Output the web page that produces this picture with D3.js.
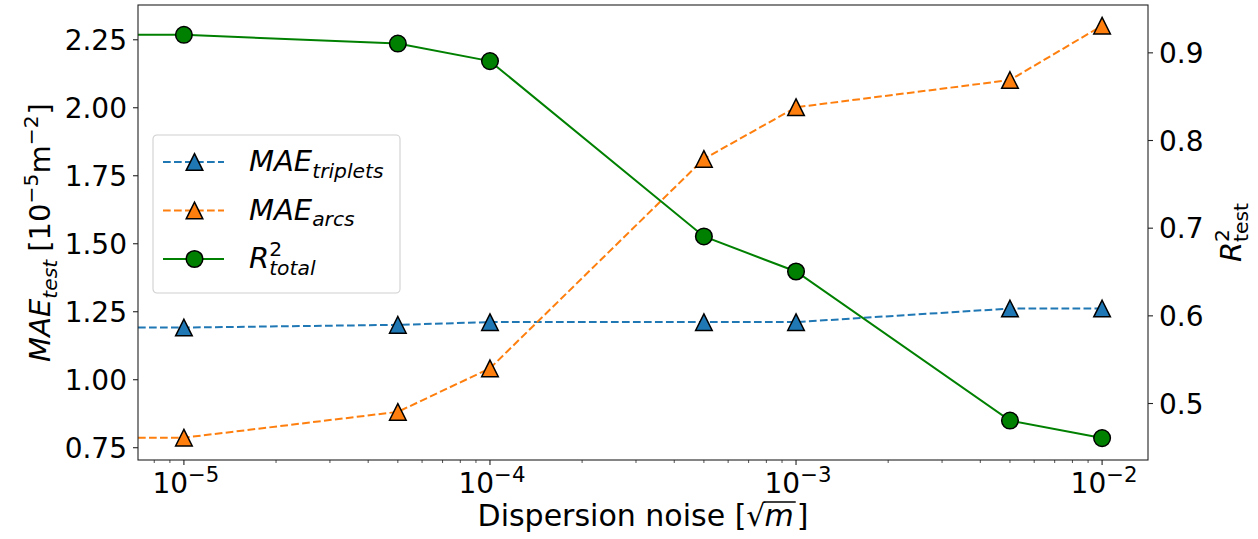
<!DOCTYPE html>
<html>
<head>
<meta charset="utf-8">
<script src="https://cdn.jsdelivr.net/npm/d3@7"></script>
<style>
  html, body { margin: 0; padding: 0; background: #fff; }
  svg { display: block; font-family: "DejaVu Sans", sans-serif; }
</style>
</head>
<body>
<svg id="chart" width="1258" height="539"></svg>
<script>
// Dispersion noise levels (x) and the three measured series
const noise = [1e-5, 5e-5, 1e-4, 5e-4, 1e-3, 5e-3, 1e-2];
const maeTriplets = [1.19, 1.20, 1.21, 1.21, 1.21, 1.26, 1.26];
const maeArcs = [0.785, 0.88, 1.04, 1.81, 2.00, 2.10, 2.30];
const r2Total = [0.92, 0.91, 0.89, 0.69, 0.65, 0.48, 0.46];

// Axis ticks
const xTickExponents = [-5, -4, -3, -2];
const leftTicks = [0.75, 1.00, 1.25, 1.50, 1.75, 2.00, 2.25];
const rightTicks = [0.5, 0.6, 0.7, 0.8, 0.9];

// Axis limits
const xLimits = [Math.pow(10, -5.15), Math.pow(10, -1.85)];
const leftLimits = [0.703, 2.376];
const rightLimits = [0.435, 0.954];

const svg = d3.select("#chart");
const box = { left: 138, right: 1148, top: 5, bottom: 460 };
const FS = 28;

const x = d3.scaleLog().domain(xLimits).range([box.left, box.right]);
const yL = d3.scaleLinear().domain(leftLimits).range([box.bottom, box.top]);
const yR = d3.scaleLinear().domain(rightLimits).range([box.bottom, box.top]);

const C = { blue: "#1f77b4", orange: "#ff7f0e", green: "#008000" };
const LW = 2;
const DASH = "7.7,3.3";
const MK = 8.3;

// Math-style label as a single <text>: pieces run left to right as tspans,
// sub/superscripts shift the baseline, "stack" restarts at the previous
// piece's x so a subscript sits under a superscript.
function mathText(g, pieces, size, opts = {}) {
  const shrink = opts.shrink || 0.7;
  const text = g.append("text").attr("x", 0).attr("y", 0).attr("fill", "#000");
  let curDy = 0, prevStart = 0, pendingDx = 0;
  const overs = [];
  pieces.forEach(p => {
    const small = p.sub || p.sup;
    const fs = small ? size * shrink : size;
    const target = p.sub ? size * 0.24 : (p.sup ? -size * 0.4 : 0);
    const ts = text.append("tspan")
      .attr("font-size", fs)
      .attr("font-style", p.it ? "italic" : "normal")
      .attr("dy", target - curDy);
    curDy = target;
    if (p.stack) ts.attr("x", prevStart);
    else if (pendingDx) ts.attr("dx", pendingDx);
    ts.text(p.t);
    pendingDx = p.gap || 0;
    const n = ts.node();
    prevStart = n.getStartPositionOfChar(0).x;
    if (p.over) overs.push({ n, len: p.t.length });
  });
  overs.forEach(o => {
    const a = o.n.getStartPositionOfChar(0).x;
    const b = o.n.getEndPositionOfChar(o.len - 1).x;
    g.append("line")
      .attr("x1", a - 1).attr("x2", b + 2)
      .attr("y1", -size * 0.8).attr("y2", -size * 0.8)
      .attr("stroke", "#000").attr("stroke-width", 1.4);
  });
  const bb = text.node().getBBox();
  return bb.x + bb.width;
}

// Plot frame background
svg.append("rect")
  .attr("x", box.left).attr("y", box.top)
  .attr("width", box.right - box.left).attr("height", box.bottom - box.top)
  .attr("fill", "#fff");

svg.append("clipPath").attr("id", "plotClip")
  .append("rect")
  .attr("x", box.left).attr("y", box.top)
  .attr("width", box.right - box.left).attr("height", box.bottom - box.top);

const plot = svg.append("g").attr("clip-path", "url(#plotClip)");

// Each line starts at the left edge at its first value
function linePoints(values, yScale) {
  const pts = values.map((v, i) => [x(noise[i]), yScale(v)]);
  return [[x.range()[0], yScale(values[0])]].concat(pts);
}
const lineGen = d3.line();

const trianglePath = `M0,${-MK}L${MK},${MK}L${-MK},${MK}Z`;

const series = [
  { values: maeTriplets, scale: yL, color: C.blue, dash: DASH, marker: "tri" },
  { values: maeArcs, scale: yL, color: C.orange, dash: DASH, marker: "tri" },
  { values: r2Total, scale: yR, color: C.green, dash: null, marker: "circle" }
];

series.forEach(s => {
  plot.append("path")
    .attr("d", lineGen(linePoints(s.values, s.scale)))
    .attr("fill", "none")
    .attr("stroke", s.color)
    .attr("stroke-width", LW)
    .attr("stroke-dasharray", s.dash);
  const mk = plot.selectAll(null).data(s.values).enter();
  if (s.marker === "tri") {
    mk.append("path")
      .attr("d", trianglePath)
      .attr("transform", (d, i) => `translate(${x(noise[i])},${s.scale(d)})`)
      .attr("fill", s.color).attr("stroke", "#000").attr("stroke-width", 1.5);
  } else {
    mk.append("circle")
      .attr("cx", (d, i) => x(noise[i])).attr("cy", d => s.scale(d))
      .attr("r", MK)
      .attr("fill", s.color).attr("stroke", "#000").attr("stroke-width", 1.5);
  }
});

// Frame
svg.append("rect")
  .attr("x", box.left).attr("y", box.top)
  .attr("width", box.right - box.left).attr("height", box.bottom - box.top)
  .attr("fill", "none").attr("stroke", "#222").attr("stroke-width", 1.1);

// X axis: major ticks at decades, minor ticks in between
const minorTicks = [];
for (let e = -6; e <= -1; e++) {
  for (let m = 2; m <= 9; m++) {
    const v = m * Math.pow(10, e);
    if (v >= xLimits[0] && v <= xLimits[1]) minorTicks.push(v);
  }
}
const xMajor = xTickExponents.map(e => Math.pow(10, e));

const xAxis = svg.append("g");
xAxis.selectAll(".minor").data(minorTicks).enter().append("line")
  .attr("x1", d => x(d)).attr("x2", d => x(d))
  .attr("y1", box.bottom).attr("y2", box.bottom + 3)
  .attr("stroke", "#222").attr("stroke-width", 0.8);
xAxis.selectAll(".major").data(xMajor).enter().append("line")
  .attr("x1", d => x(d)).attr("x2", d => x(d))
  .attr("y1", box.bottom).attr("y2", box.bottom + 5)
  .attr("stroke", "#222").attr("stroke-width", 1.1);

xTickExponents.forEach(e => {
  const g = svg.append("g");
  const inner = g.append("g");
  const w = mathText(inner, [
    { t: "10" },
    { t: "\u2212" + Math.abs(e), sup: true }
  ], FS, { shrink: 0.76 });
  g.attr("transform", `translate(${x(Math.pow(10, e)) - w / 2 + 2},${box.bottom + 33})`);
});

// Left axis
const leftAxis = d3.axisLeft(yL).tickValues(leftTicks)
  .tickFormat(d3.format(".2f")).tickSize(5).tickPadding(6);
const gL = svg.append("g").attr("transform", `translate(${box.left},0)`).call(leftAxis);
gL.select(".domain").remove();
gL.selectAll(".tick line").attr("stroke", "#222").attr("stroke-width", 1.1);
gL.selectAll(".tick text").attr("font-size", FS).attr("font-family", "DejaVu Sans")
  .attr("fill", "#000").attr("dy", "0.36em");

// Right axis
const rightAxis = d3.axisRight(yR).tickValues(rightTicks)
  .tickFormat(d3.format(".1f")).tickSize(5).tickPadding(6);
const gR = svg.append("g").attr("transform", `translate(${box.right},0)`).call(rightAxis);
gR.select(".domain").remove();
gR.selectAll(".tick line").attr("stroke", "#222").attr("stroke-width", 1.1);
gR.selectAll(".tick text").attr("font-size", FS).attr("font-family", "DejaVu Sans")
  .attr("fill", "#000").attr("dy", "0.36em");

// X axis title
{
  const g = svg.append("g");
  const inner = g.append("g");
  const w = mathText(inner, [
    { t: "Dispersion noise [" },
    { t: "\u221A", gap: -1 },
    { t: "m", it: true, over: true, gap: 3 },
    { t: "]" }
  ], 30);
  g.attr("transform", `translate(${(box.left + box.right) / 2 - w / 2},${box.bottom + 66})`);
}

// Left axis title (rotated)
{
  const g = svg.append("g");
  const inner = g.append("g");
  const w = mathText(inner, [
    { t: "MAE", it: true },
    { t: "test", it: true, sub: true, gap: 8 },
    { t: "[10" },
    { t: "\u22125", sup: true },
    { t: "m" },
    { t: "\u22122", sup: true, gap: 1 },
    { t: "]" }
  ], 29);
  inner.attr("transform", `translate(${-w / 2},0)`);
  g.attr("transform", `translate(50,${(box.top + box.bottom) / 2}) rotate(-90)`);
}

// Right axis title (rotated)
{
  const g = svg.append("g");
  const inner = g.append("g");
  const w = mathText(inner, [
    { t: "R", it: true },
    { t: "2", sup: true },
    { t: "test", sub: true, stack: true }
  ], 29);
  inner.attr("transform", `translate(${-w / 2},0)`);
  g.attr("transform", `translate(1241,${(box.top + box.bottom) / 2}) rotate(-90)`);
}

// Legend
const legendItems = [
  { label: [{ t: "MAE", it: true }, { t: "triplets", it: true, sub: true }], s: series[0] },
  { label: [{ t: "MAE", it: true }, { t: "arcs", it: true, sub: true }], s: series[1] },
  { label: [{ t: "R", it: true }, { t: "2", sup: true }, { t: "total", it: true, sub: true, stack: true }], s: series[2] }
];
const legend = svg.append("g").attr("transform", "translate(153,135)");
legend.append("rect")
  .attr("width", 247).attr("height", 158).attr("rx", 4)
  .attr("fill", "#fff").attr("fill-opacity", 0.8)
  .attr("stroke", "#d0d0d0").attr("stroke-width", 1.1);
legendItems.forEach((it, i) => {
  const row = legend.append("g").attr("transform", `translate(0,${27 + i * 48.5})`);
  row.append("line")
    .attr("x1", 10).attr("x2", 71).attr("y1", 0).attr("y2", 0)
    .attr("stroke", it.s.color).attr("stroke-width", LW)
    .attr("stroke-dasharray", it.s.dash);
  if (it.s.marker === "tri") {
    row.append("path").attr("d", trianglePath).attr("transform", "translate(41.5,0)")
      .attr("fill", it.s.color).attr("stroke", "#000").attr("stroke-width", 1.5);
  } else {
    row.append("circle").attr("cx", 41.5).attr("cy", 0).attr("r", MK)
      .attr("fill", it.s.color).attr("stroke", "#000").attr("stroke-width", 1.5);
  }
  const lg = row.append("g").attr("transform", "translate(96,9)");
  mathText(lg, it.label, 29);
});
</script>
</body>
</html>
